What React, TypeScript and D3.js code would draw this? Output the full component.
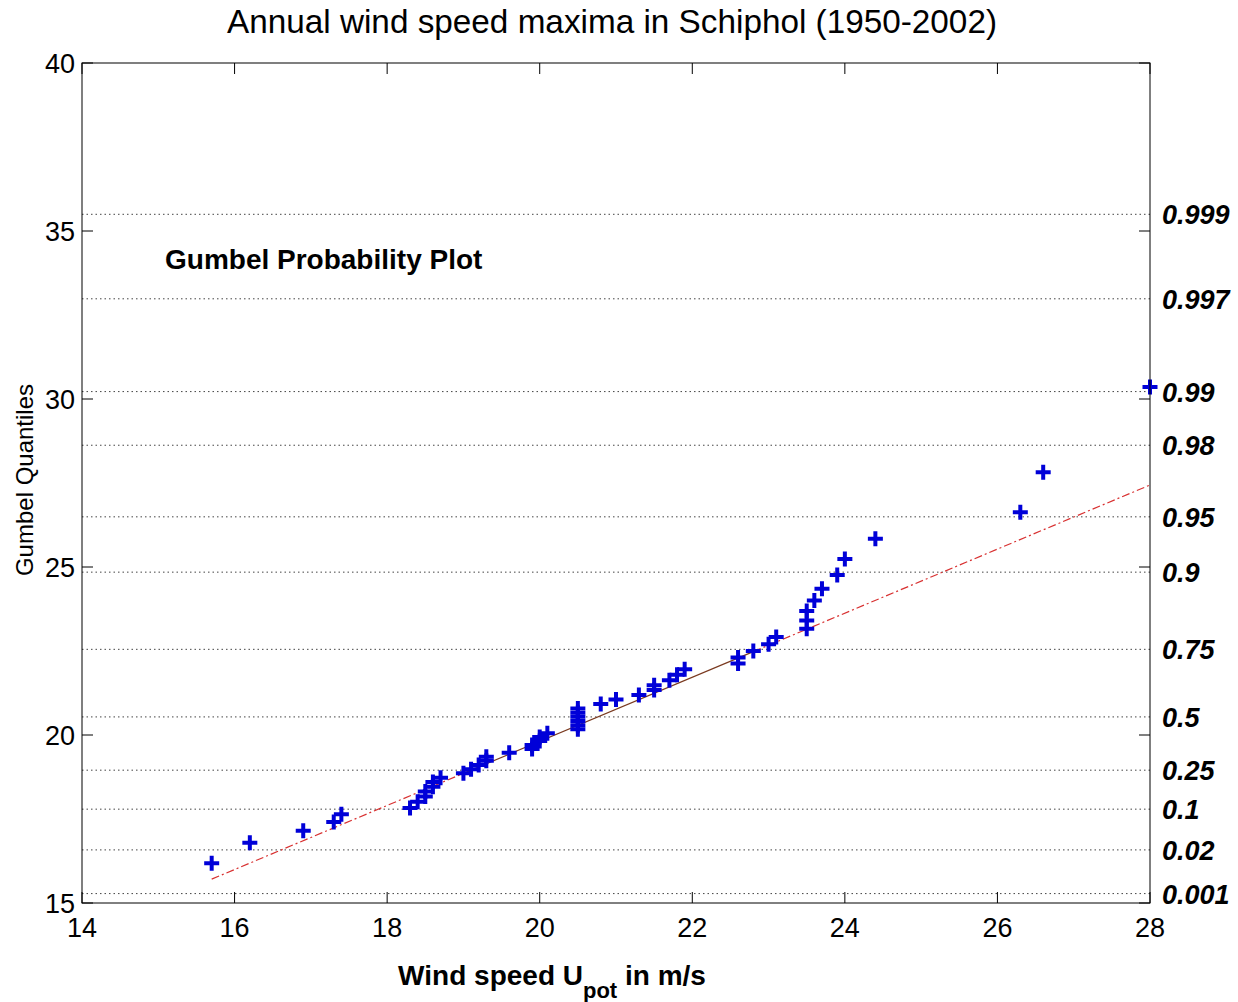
import React from "react";
import * as d3 from "d3";

// Data: annual maxima wind speeds (sorted) and their Gumbel plotting quantiles
const windSpeed = [15.7, 16.2, 16.9, 17.3, 17.4, 18.3, 18.4, 18.5, 18.5, 18.6, 18.6, 18.7, 19.0, 19.1, 19.2, 19.3, 19.3, 19.6, 19.9, 19.9, 20.0, 20.0, 20.1, 20.5, 20.5, 20.5, 20.5, 20.5, 20.5, 20.8, 21.0, 21.3, 21.5, 21.5, 21.7, 21.8, 21.9, 22.6, 22.6, 22.8, 23.0, 23.1, 23.5, 23.5, 23.5, 23.6, 23.7, 23.9, 24.0, 24.4, 26.3, 26.6, 28.0];
const gumbelQuantile = [16.18, 16.79, 17.15, 17.41, 17.64, 17.83, 18.01, 18.17, 18.32, 18.46, 18.60, 18.73, 18.86, 18.98, 19.11, 19.23, 19.35, 19.47, 19.58, 19.70, 19.82, 19.94, 20.05, 20.17, 20.29, 20.42, 20.54, 20.66, 20.79, 20.92, 21.06, 21.19, 21.34, 21.48, 21.63, 21.79, 21.96, 22.13, 22.31, 22.50, 22.70, 22.92, 23.16, 23.41, 23.69, 24.00, 24.35, 24.76, 25.24, 25.84, 26.63, 27.82, 30.36];

// Fitted line endpoints and the solid (quartile) section
const fitX = [15.7, 28.0];
const fitY = [15.71, 27.44];
const solidX = [19.0, 22.8];

// Axis ticks
const xTicks = [14, 16, 18, 20, 22, 24, 26, 28];
const yTicks = [15, 20, 25, 30, 35, 40];
// Probability grid labels (right axis)
const probLabels = ["0.001", "0.02", "0.1", "0.25", "0.5", "0.75", "0.9", "0.95", "0.98", "0.99", "0.997", "0.999"];
const gumbelLoc = 19.70;
const gumbelScale = 2.287;

const W = 1238;
const H = 1002;
const left = 82, right = 1150, top = 63, bottom = 903;

export default function App() {
  const x = d3.scaleLinear().domain([14, 28]).range([left, right]);
  const y = d3.scaleLinear().domain([15, 40]).range([bottom, top]);
  const fit = d3.scaleLinear().domain(fitX).range(fitY);
  const line = d3.line<number>().x((d) => x(d)).y((d) => y(fit(d)));

  const probY = (p: string) => {
    const pv = parseFloat(p);
    return y(gumbelLoc + gumbelScale * -Math.log(-Math.log(pv)));
  };

  const font = "'Liberation Sans', Arial, Helvetica, sans-serif";
  const blue = "#0000d8";
  const tickLen = 11;

  return (
    <svg width={W} height={H} style={{ position: "absolute", left: 0, top: 0, background: "#fff" }} fontFamily={font}>
      <rect x={0} y={0} width={W} height={H} fill="#fff" />
      {/* title */}
      <text x={612} y={33} textAnchor="middle" fontSize={33.3} fill="#000">
        Annual wind speed maxima in Schiphol (1950-2002)
      </text>

      {/* probability gridlines */}
      {probLabels.map((p) => (
        <g key={p}>
          <line x1={left} x2={right} y1={probY(p)} y2={probY(p)} stroke="#444" strokeWidth={1} strokeDasharray="1.5,3" />
          <text x={1162} y={probY(p) + 10} fontSize={27} fontWeight="bold" fontStyle="italic" fill="#000">
            {p}
          </text>
        </g>
      ))}

      {/* fit line: dash-dot extensions and solid middle */}
      <path d={line([fitX[0], solidX[0]]) || ""} fill="none" stroke="#d83030" strokeWidth={1.2} strokeDasharray="8,3,2,3" />
      <path d={line([solidX[1], fitX[1]]) || ""} fill="none" stroke="#d83030" strokeWidth={1.2} strokeDasharray="8,3,2,3" />
      <path d={line(solidX) || ""} fill="none" stroke="#7a3a20" strokeWidth={1.2} />

      {/* points */}
      {windSpeed.map((v, i) => (
        <path
          key={i}
          transform={`translate(${x(v)},${y(gumbelQuantile[i])})`}
          d="M-7.5,0H7.5M0,-7.5V7.5"
          stroke={blue}
          strokeWidth={4}
          fill="none"
        />
      ))}

      {/* frame */}
      <rect x={left} y={top} width={right - left} height={bottom - top} fill="none" stroke="#000" strokeWidth={1} />

      {/* x ticks */}
      {xTicks.map((t) => (
        <g key={t}>
          <line x1={x(t)} x2={x(t)} y1={bottom} y2={bottom - tickLen} stroke="#000" />
          <line x1={x(t)} x2={x(t)} y1={top} y2={top + tickLen} stroke="#000" />
          <text x={x(t)} y={937} textAnchor="middle" fontSize={27} fill="#000">
            {t}
          </text>
        </g>
      ))}
      {/* y ticks */}
      {yTicks.map((t) => (
        <g key={t}>
          <line x1={left} x2={left + tickLen} y1={y(t)} y2={y(t)} stroke="#000" />
          <line x1={right} x2={right - tickLen} y1={y(t)} y2={y(t)} stroke="#000" />
          <text x={75} y={y(t) + 10} textAnchor="end" fontSize={27} fill="#000">
            {t}
          </text>
        </g>
      ))}

      {/* axis labels */}
      <text x={552} y={985} textAnchor="middle" fontSize={28} fontWeight="bold" fill="#000">
        Wind speed U
        <tspan fontSize={22} dy={13}>pot</tspan>
        <tspan dy={-13}> in m/s</tspan>
      </text>
      <text transform="translate(33,480) rotate(-90)" textAnchor="middle" fontSize={24} fill="#000">
        Gumbel Quantiles
      </text>
      <text x={165} y={269} fontSize={28} fontWeight="bold" fill="#000">
        Gumbel Probability Plot
      </text>
    </svg>
  );
}
